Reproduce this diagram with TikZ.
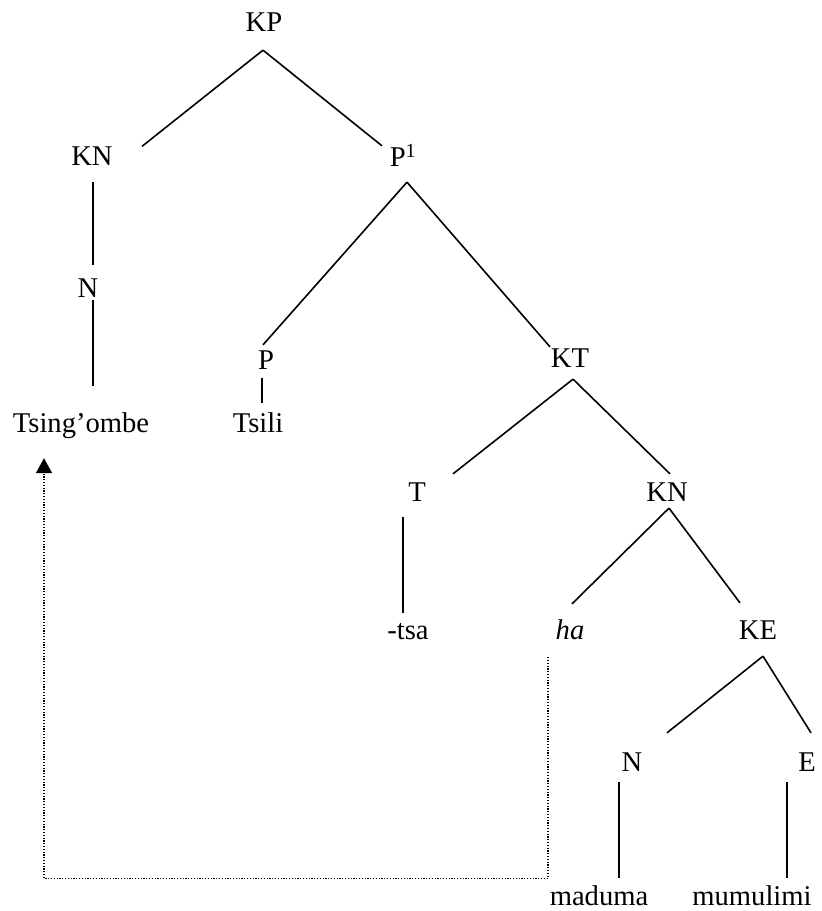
\documentclass[tikz,border=0pt]{standalone}
\usepackage{fontspec}
\setmainfont{Liberation Serif}
\usetikzlibrary{arrows.meta}

\begin{document}
\begin{tikzpicture}[x=1pt,y=-1pt,
  lab/.style={inner sep=0pt,text height=18.9pt,text depth=0pt,font=\fontsize{28.6pt}{34pt}\selectfont},
  edge/.style={line width=1.6pt},
  trace/.style={line width=1.2pt,dash pattern=on 1.2pt off 1.6pt,-{Triangle[width=16pt,length=15pt]}}]
\useasboundingbox (0,0) rectangle (822,911);
% labels of the tree
\node[lab] (kp) at (264,22) {KP};
\node[lab] (kn1) at (92,156) {KN};
\node[lab] (p1) at (403,157) {P\textsuperscript{1}};
\node[lab] (n1) at (88,288) {N};
\node[lab] (tsingombe) at (81,423) {Tsing’ombe};
\node[lab] (p) at (266,360) {P};
\node[lab] (tsili) at (258,423) {Tsili};
\node[lab] (kt) at (570,358) {KT};
\node[lab] (t) at (417,492) {T};
\node[lab] (kn2) at (667,492) {KN};
\node[lab] (tsa) at (408,630) {-tsa};
\node[lab] (ha) at (570,630) {\textit{ha}};
\node[lab] (ke) at (758,630) {KE};
\node[lab] (n2) at (632,762) {N};
\node[lab] (e) at (807,762) {E};
\node[lab] (maduma) at (599,896) {maduma};
\node[lab] (mumulimi) at (752,896) {mumulimi};
% branches
\draw[edge] (kp.south) ++(-1,18.5) -- ([shift={(50,0)}]kn1.north);
\draw[edge] (kp.south) ++(-1,18.5) -- ([shift={(-21,-1.5)}]p1.north);
\draw[edge] (kn1.south) ++(1,16.5) -- ([shift={(5,-13.5)}]n1.north);
\draw[edge] (n1.south) ++(5,2.5) -- ([shift={(12,-27.5)}]tsingombe.north);
\draw[edge] (p1.south) ++(4,15.5) -- ([shift={(-3,-5.5)}]p.north);
\draw[edge] (p1.south) ++(4,15.5) -- ([shift={(-20,-1.5)}]kt.north);
\draw[edge] (p.south) ++(-4,8.5) -- ([shift={(-4,-10.5)}]tsili.north -| p.south);
\draw[edge] (kt.south) ++(3,11.5) -- ([shift={(36,-8.5)}]t.north);
\draw[edge] (kt.south) ++(3,11.5) -- ([shift={(3,-8.5)}]kn2.north);
\draw[edge] (t.south) ++(-14,15.5) -- ([shift={(-5,-7.5)}]tsa.north);
\draw[edge] (kn2.south) ++(2,6.5) -- ([shift={(2,-16.5)}]ha.north);
\draw[edge] (kn2.south) ++(2,6.5) -- ([shift={(-18,-17.5)}]ke.north);
\draw[edge] (ke.south) ++(5,16.5) -- ([shift={(35,-19.5)}]n2.north);
\draw[edge] (ke.south) ++(5,16.5) -- ([shift={(4,-19.5)}]e.north);
\draw[edge] (n2.south) ++(-13,10.5) -- ([shift={(20,-8.5)}]maduma.north);
\draw[edge] (e.south) ++(-20,10.5) -- ([shift={(35,-8.5)}]mumulimi.north);
% movement of the subject
\draw[trace] ([shift={(-22,17.5)}]ha.south) -- ++(0,221) -| ([shift={(-37,25.5)}]tsingombe.south);
\end{tikzpicture}
\end{document}
